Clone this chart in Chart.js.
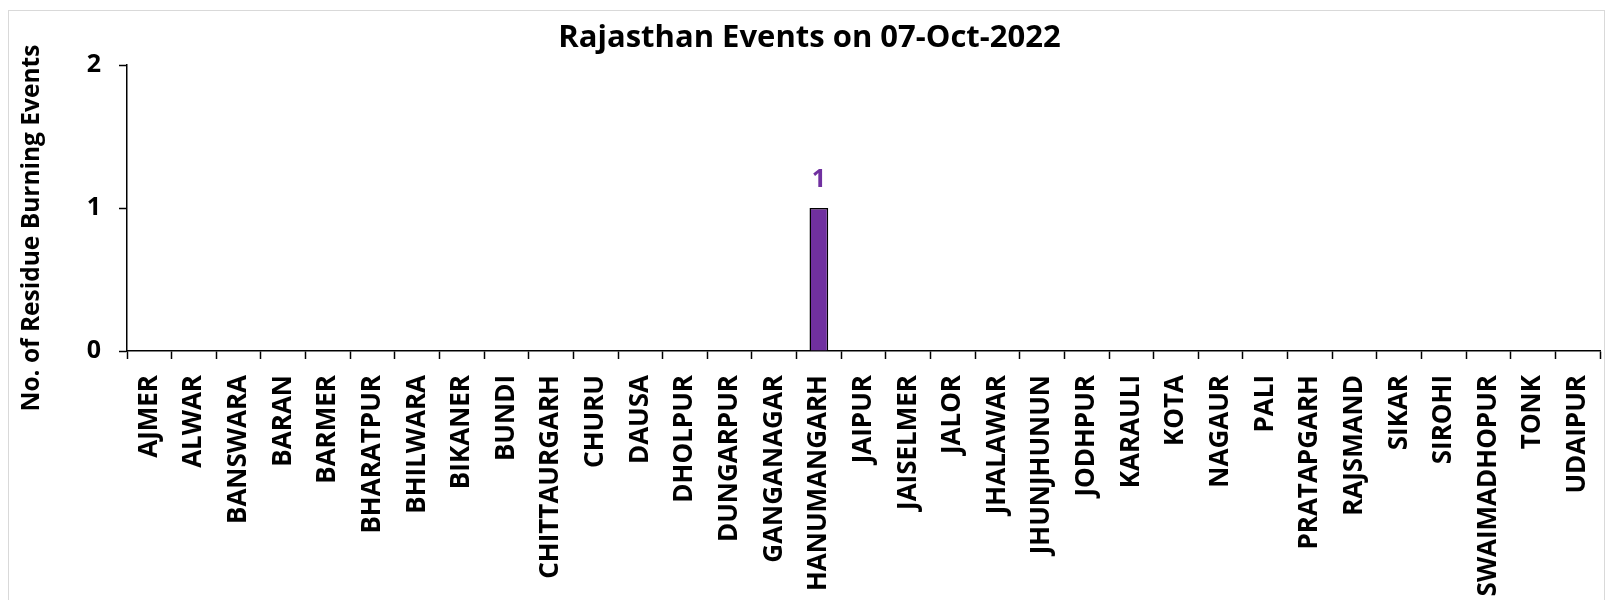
<!DOCTYPE html>
<html>
<head>
<meta charset="utf-8">
<script src="https://cdn.jsdelivr.net/npm/chart.js@4.4.0/dist/chart.umd.min.js"></script>
<style>
  html, body { margin: 0; padding: 0; background: #fff; overflow: hidden; }
  #frame {
    position: absolute; left: 8px; top: 10px;
    width: 1595px; height: 600px;
    border: 1px solid #d9d9d9;
  }
  canvas { display: block; }
</style>
</head>
<body>
<div id="frame"><canvas id="chart" width="1595" height="600"></canvas></div>
<script>
// district names along the x axis
const districts = [
    'AJMER', 'ALWAR', 'BANSWARA', 'BARAN', 'BARMER', 'BHARATPUR', 'BHILWARA',
    'BIKANER', 'BUNDI', 'CHITTAURGARH', 'CHURU', 'DAUSA', 'DHOLPUR', 'DUNGARPUR',
    'GANGANAGAR', 'HANUMANGARH', 'JAIPUR', 'JAISELMER', 'JALOR', 'JHALAWAR',
    'JHUNJHUNUN', 'JODHPUR', 'KARAULI', 'KOTA', 'NAGAUR', 'PALI', 'PRATAPGARH',
    'RAJSMAND', 'SIKAR', 'SIROHI', 'SWAIMADHOPUR', 'TONK', 'UDAIPUR'
];

// residue burning events per district
const events = [
    0, 0, 0, 0, 0, 0, 0,
    0, 0, 0, 0, 0, 0, 0,
    0, 1, 0, 0, 0, 0,
    0, 0, 0, 0, 0, 0, 0,
    0, 0, 0, 0, 0, 0
];

const yTicks = [0, 1, 2];

const titleText = 'Rajasthan Events on 07-Oct-2022';
const yTitleText = 'No. of Residue Burning Events';

const FONT = "'Open Sans', 'DejaVu Sans', sans-serif";
const PURPLE = '#7030A0';

// draws value labels above non-zero bars and the y axis title
const labelPlugin = {
    id: 'labelPlugin',
    afterDatasetsDraw(chart) {
        const ctx = chart.ctx;
        const meta = chart.getDatasetMeta(0);
        ctx.save();
        ctx.fillStyle = PURPLE;
        ctx.font = 'bold 25px ' + FONT;
        ctx.textAlign = 'center';
        ctx.textBaseline = 'middle';
        meta.data.forEach((bar, i) => {
            const v = chart.data.datasets[0].data[i];
            if (v > 0) {
                ctx.fillText(String(v), bar.x, bar.y - 28);
            }
        });
        ctx.restore();

        // y axis title
        const area = chart.chartArea;
        ctx.save();
        ctx.fillStyle = '#000';
        ctx.font = 'bold 24.5px ' + FONT;
        ctx.textAlign = 'center';
        ctx.textBaseline = 'middle';
        ctx.translate(23, (area.top + area.bottom) / 2 + 20);
        ctx.rotate(-Math.PI / 2);
        ctx.fillText(yTitleText, 0, 0);
        ctx.restore();
    }
};

const ctx = document.getElementById('chart').getContext('2d');
new Chart(ctx, {
    type: 'bar',
    data: {
        labels: districts,
        datasets: [{
            data: events,
            backgroundColor: PURPLE,
            borderColor: '#000',
            borderWidth: 1.5,
            barPercentage: 0.42,
            categoryPercentage: 1
        }]
    },
    options: {
        responsive: false,
        animation: false,
        layout: { padding: { left: 10, right: 4, top: 0, bottom: 0 } },
        plugins: {
            legend: { display: false },
            tooltip: { enabled: false },
            title: {
                display: true,
                text: titleText,
                color: '#000',
                font: { family: FONT, size: 31, weight: 'bold', lineHeight: 1.2 },
                padding: { top: 9, bottom: 8 }
            }
        },
        scales: {
            x: {
                offset: true,
                grid: {
                    offset: true,
                    drawOnChartArea: false,
                    drawTicks: true,
                    tickLength: 8,
                    tickWidth: 1.5,
                    tickColor: '#000'
                },
                border: { color: '#000', width: 1.5 },
                ticks: {
                    autoSkip: false,
                    maxRotation: 90,
                    minRotation: 90,
                    padding: 16,
                    color: '#000',
                    font: { family: FONT, size: 26, weight: 'bold' }
                },
                afterFit(scale) {
                    scale.height = 260;
                    scale.paddingLeft = 0;
                    scale.paddingRight = 0;
                }
            },
            y: {
                min: 0,
                max: 2,
                afterBuildTicks(scale) {
                    scale.ticks = yTicks.map(v => ({ value: v }));
                },
                grid: {
                    drawOnChartArea: false,
                    tickLength: 8,
                    tickWidth: 1.5,
                    tickColor: '#000'
                },
                border: { color: '#000', width: 1.5 },
                ticks: {
                    padding: 18,
                    color: '#000',
                    font: { family: FONT, size: 25, weight: 'bold' }
                },
                afterFit(scale) { scale.width = 108; }
            }
        }
    },
    plugins: [labelPlugin]
});
</script>
</body>
</html>
